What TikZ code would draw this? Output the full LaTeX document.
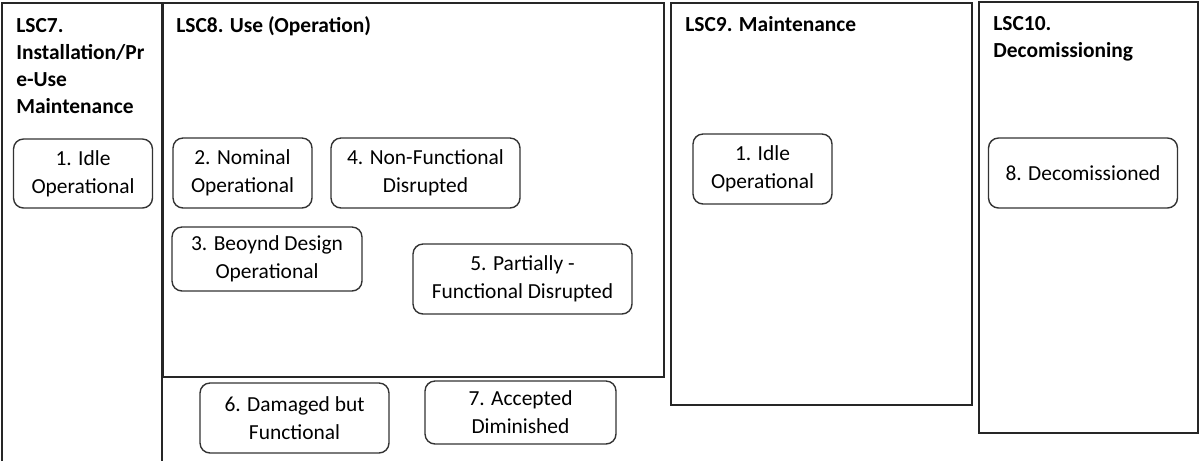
\documentclass[tikz,border=0pt]{standalone}
\usepackage{fontspec}
\setmainfont{Carlito}
\usetikzlibrary{positioning}
\tikzset{
  lsc/.style={draw=black!85, line width=0.8pt},
  head/.style={anchor=north west, align=left, inner sep=0pt, font=\fontsize{12.2}{15.4}\selectfont\bfseries},
  state/.style={draw=black!80, line width=0.8pt, rounded corners=0.2cm, align=center, inner sep=0pt, font=\fontsize{12.2}{15.9}\selectfont},
}

\begin{document}
\begin{tikzpicture}[x=0.02cm, y=-0.02cm]
      \useasboundingbox (0,0) rectangle (1200,461);

      % life cycle stage frames
      \draw[lsc] (2,461) -- (2,3) -- (162,3) -- (162,461);
      \draw[lsc] (163,3) rectangle (664,377);
      \draw[lsc] (671,3) rectangle (972,405);
      \draw[lsc] (979,2) rectangle (1198,433);

      \node[head] (lsc7) at (16,18) {LSC7.\\Installation/Pr\\e-Use\\Maintenance};
      \node[head] (lsc8) at (176,16) {LSC8. Use (Operation)};
      \node[head] (lsc9) at (685,16) {LSC9. Maintenance};
      \node[head] (lsc10) at (993,16) {LSC10.\\Decomissioning};

      % states
      \node[state, minimum width=2.78cm, minimum height=1.38cm] (idlea) at (83,173.5) {1. Idle\\Operational};
      \node[state, minimum width=2.78cm, minimum height=1.4cm] (nominal) at (242.5,173) {2. Nominal\\Operational};
      \node[state, minimum width=3.78cm, minimum height=1.4cm] (nonfunc) at (425.5,173) {4. Non-Functional\\Disrupted};
      \node[state, minimum width=3.8cm, minimum height=1.28cm] (beyond) at (267,259) {3. Beoynd Design\\Operational};
      \node[state, minimum width=4.38cm, minimum height=1.4cm] (partial) at (522.5,279) {5. Partially -\\Functional Disrupted};
      \node[state, minimum width=3.78cm, minimum height=1.4cm] (damaged) at (294.5,418) {6. Damaged but\\Functional};
      \node[state, minimum width=3.82cm, minimum height=1.26cm] (accepted) at (520.5,412.5) {7. Accepted\\Diminished};
      \node[state, minimum width=2.78cm, minimum height=1.4cm] (idleb) at (762.5,169) {1. Idle\\Operational};
      \node[state, minimum width=3.78cm, minimum height=1.4cm] (decom) at (1083,173) {8. Decomissioned};
    \end{tikzpicture}
\end{document}
